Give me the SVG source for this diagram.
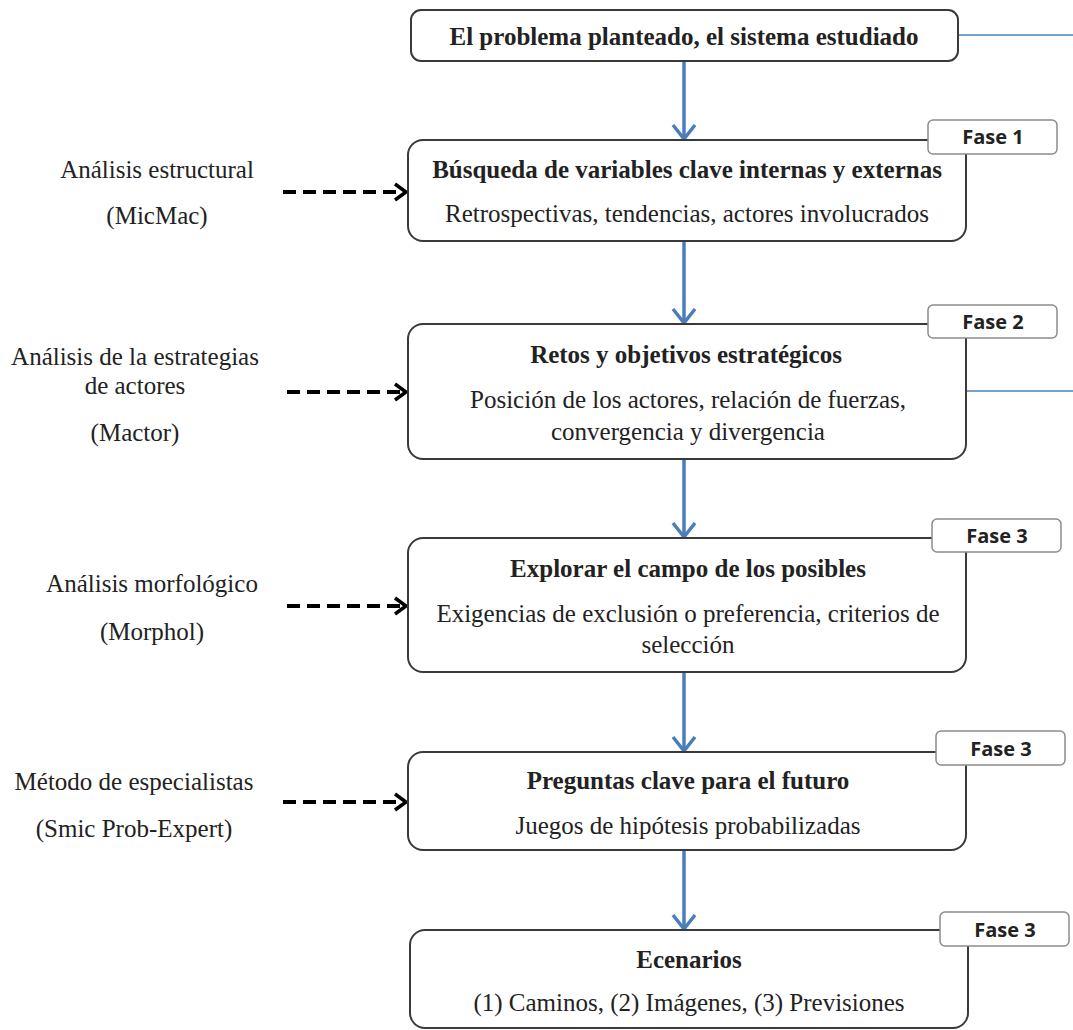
<svg xmlns="http://www.w3.org/2000/svg" width="1073" height="1030" viewBox="0 0 1073 1030">
<style>
.box{fill:#fff;stroke:#3a3a3a;stroke-width:2}
.tag{fill:#fff;stroke:#8c8c8c;stroke-width:1.5}
.t{font-family:"Liberation Serif","Times New Roman",serif;font-size:25px;fill:#222;text-anchor:middle}
.b{font-weight:bold}
.f{font-family:"Open Sans","Liberation Sans",sans-serif;font-size:20px;font-weight:bold;fill:#222;text-anchor:middle}
.blue{stroke:#4a7ebb;stroke-width:3.5;fill:none}
.bl{stroke:#4a7ebb;stroke-width:1.5;fill:none}
.dash{stroke:#000;stroke-width:4;stroke-dasharray:13,7;fill:none}
</style>
<defs>
<marker id="ab" markerWidth="26" markerHeight="26" refX="16" refY="12" orient="auto" markerUnits="userSpaceOnUse" viewBox="0 0 26 26">
<path d="M2,1 L16,12 L2,23" fill="none" stroke="#4a7ebb" stroke-width="3.5"/>
</marker>
<marker id="ak" markerWidth="16" markerHeight="20" refX="13" refY="10" orient="auto" markerUnits="userSpaceOnUse" viewBox="0 0 16 20">
<path d="M2,2 L13,10 L2,18" fill="none" stroke="#000" stroke-width="3.5"/>
</marker>
</defs>
<g id="connectors">
<line class="bl" x1="958" y1="35" x2="1073" y2="35"/>
<line class="bl" x1="966" y1="391" x2="1073" y2="391"/>
<line class="blue" x1="684" y1="61" x2="684" y2="139" marker-end="url(#ab)"/>
<line class="blue" x1="684" y1="241" x2="684" y2="323" marker-end="url(#ab)"/>
<line class="blue" x1="684" y1="459" x2="684" y2="537" marker-end="url(#ab)"/>
<line class="blue" x1="684" y1="672" x2="684" y2="751" marker-end="url(#ab)"/>
<line class="blue" x1="684" y1="850" x2="684" y2="929" marker-end="url(#ab)"/>
<line class="dash" x1="283" y1="192" x2="406" y2="192" marker-end="url(#ak)"/>
<line class="dash" x1="287" y1="392" x2="406" y2="392" marker-end="url(#ak)"/>
<line class="dash" x1="287" y1="606" x2="406" y2="606" marker-end="url(#ak)"/>
<line class="dash" x1="283" y1="802" x2="406" y2="802" marker-end="url(#ak)"/>
</g>
<g id="n0">
<rect class="box" x="411" y="10" width="547" height="51" rx="10"/>
<text class="t b" x="684" y="45">El problema planteado, el sistema estudiado</text>
</g>
<g id="n1">
<rect class="box" x="408" y="140" width="558" height="101" rx="15"/>
<text class="t b" x="687" y="178">Búsqueda de variables clave internas y externas</text>
<text class="t" x="687" y="222">Retrospectivas, tendencias, actores involucrados</text>
<rect class="tag" x="928" y="120" width="129" height="34" rx="5"/>
<text class="f" x="993" y="144">Fase 1</text>
</g>
<g id="n2">
<rect class="box" x="408" y="324" width="558" height="135" rx="15"/>
<text class="t b" x="686" y="363">Retos y objetivos estratégicos</text>
<text class="t" x="688" y="408">Posición de los actores, relación de fuerzas,</text>
<text class="t" x="688" y="440">convergencia y divergencia</text>
<rect class="tag" x="928" y="305" width="129" height="33" rx="5"/>
<text class="f" x="993" y="329">Fase 2</text>
</g>
<g id="n3">
<rect class="box" x="408" y="538" width="558" height="134" rx="15"/>
<text class="t b" x="688" y="577">Explorar el campo de los posibles</text>
<text class="t" x="688" y="622">Exigencias de exclusión o preferencia, criterios de</text>
<text class="t" x="688" y="653">selección</text>
<rect class="tag" x="932" y="519" width="129" height="33" rx="5"/>
<text class="f" x="997" y="543">Fase 3</text>
</g>
<g id="n4">
<rect class="box" x="408" y="752" width="558" height="98" rx="15"/>
<text class="t b" x="688" y="789">Preguntas clave para el futuro</text>
<text class="t" x="688" y="834">Juegos de hipótesis probabilizadas</text>
<rect class="tag" x="936" y="731" width="129" height="34" rx="5"/>
<text class="f" x="1001" y="756">Fase 3</text>
</g>
<g id="n5">
<rect class="box" x="410" y="930" width="558" height="98" rx="15"/>
<text class="t b" x="689" y="968">Ecenarios</text>
<text class="t" x="689" y="1011">(1) Caminos, (2) Imágenes, (3) Previsiones</text>
<rect class="tag" x="940" y="912" width="129" height="34" rx="5"/>
<text class="f" x="1005" y="937">Fase 3</text>
</g>
<g id="l1">
<text class="t" x="157" y="178">Análisis estructural</text>
<text class="t" x="157" y="224">(MicMac)</text>
</g>
<g id="l2">
<text class="t" x="135" y="365">Análisis de la estrategias</text>
<text class="t" x="135" y="394">de actores</text>
<text class="t" x="135" y="441">(Mactor)</text>
</g>
<g id="l3">
<text class="t" x="152" y="592">Análisis morfológico</text>
<text class="t" x="152" y="640">(Morphol)</text>
</g>
<g id="l4">
<text class="t" x="134" y="790">Método de especialistas</text>
<text class="t" x="134" y="837">(Smic Prob-Expert)</text>
</g>
</svg>
